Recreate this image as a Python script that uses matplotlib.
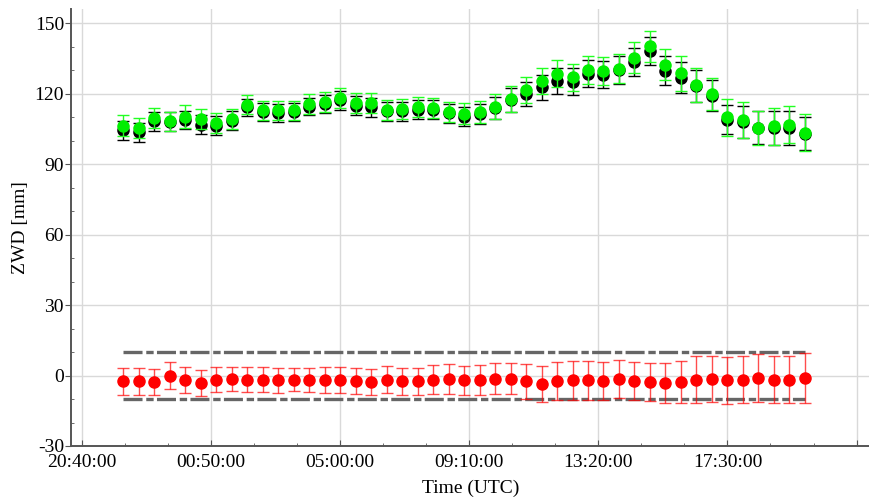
import matplotlib
matplotlib.use('Agg')
import matplotlib.pyplot as plt
from matplotlib.ticker import FixedLocator, FixedFormatter
import matplotlib.dates as mdates
import pandas as pd

plt.rcParams['font.family'] = ['Liberation Serif', 'DejaVu Serif']
plt.rcParams['lines.scale_dashes'] = False
plt.rcParams['axes.unicode_minus'] = False

# 30-minute epochs, 22:00 -> 20:00 next day
times = pd.date_range('2000-01-01 22:00', periods=45, freq='30min')

# ZWD series (black / green) and their differences (red), mm
zwd_black = [104.3, 103.5, 108.2, 108.0, 108.8, 106.8, 106.4, 108.5, 114.2, 112.1,
             111.8, 112.1, 114.5, 115.6, 117.2, 114.9, 114.2, 112.5, 112.5, 113.1,
             113.1, 111.6, 110.2, 111.4, 113.9, 117.3, 119.9, 122.7, 125.5, 125.1,
             128.4, 128.1, 130.1, 133.3, 138.0, 129.8, 126.7, 123.1, 119.1, 108.8,
             107.8, 105.4, 105.4, 105.4, 102.9]
err_black = [4.2, 3.9, 4.0, 4.0, 3.8, 4.0, 4.0, 3.9, 3.6, 3.8,
             3.8, 3.8, 3.8, 3.9, 4.0, 4.0, 4.0, 4.0, 4.0, 4.0,
             4.0, 4.1, 4.2, 4.3, 4.6, 5.0, 5.2, 5.4, 5.6, 5.6,
             5.7, 5.8, 5.9, 6.0, 5.9, 6.2, 6.6, 6.8, 6.6, 6.2,
             6.8, 7.0, 7.1, 7.1, 7.1]

zwd_green = [106.4, 105.2, 109.6, 108.2, 110.2, 109.2, 107.5, 109.2, 115.3, 112.8,
             112.8, 112.8, 115.6, 116.3, 118.0, 115.9, 115.9, 113.1, 113.5, 114.2,
             113.9, 112.1, 111.4, 112.1, 114.5, 117.7, 121.6, 125.5, 128.4, 126.9,
             130.1, 129.5, 130.5, 135.2, 140.1, 132.3, 128.6, 123.8, 119.9, 109.9,
             108.8, 105.4, 106.0, 106.8, 103.4]
err_green = [4.3, 4.3, 4.3, 4.1, 4.8, 4.4, 4.3, 4.3, 3.9, 4.1,
             4.1, 4.1, 4.1, 4.2, 4.2, 4.2, 4.2, 4.3, 4.3, 4.3,
             4.3, 4.4, 4.5, 4.7, 5.2, 5.4, 5.5, 5.6, 5.8, 5.8,
             5.9, 6.0, 6.2, 6.6, 6.7, 6.6, 7.3, 7.2, 6.9, 7.8,
             7.6, 7.3, 7.8, 7.8, 7.7]

diff = [-2.5, -2.5, -2.8, 0.0, -1.8, -3.3, -1.8, -1.4, -1.7, -1.7,
        -2.1, -1.7, -2.1, -1.8, -1.8, -2.4, -2.8, -1.7, -2.5, -2.5,
        -1.8, -1.4, -2.1, -1.8, -1.4, -1.4, -2.4, -3.5, -2.4, -2.1,
        -2.1, -2.4, -1.4, -2.4, -2.7, -3.3, -2.7, -1.7, -1.4, -2.1,
        -1.7, -1.0, -1.7, -1.7, -1.0]
err_diff = [5.8, 5.7, 5.7, 5.7, 5.5, 5.5, 5.3, 5.2, 5.3, 5.5,
            5.5, 5.0, 5.1, 5.5, 5.5, 5.5, 5.5, 5.7, 5.9, 5.9,
            6.2, 6.4, 6.3, 6.4, 6.6, 6.6, 7.4, 7.6, 8.0, 8.2,
            8.4, 8.2, 8.2, 8.2, 8.2, 8.5, 8.9, 9.8, 9.9, 9.9,
            10.1, 10.3, 10.1, 10.1, 10.6]

limit = 10

yticks = [-30, 0, 30, 60, 90, 120, 150]
xtick_labels = ['20:40:00', '00:50:00', '05:00:00', '09:10:00', '13:20:00', '17:30:00', '']

fig = plt.figure(figsize=(8.7, 5), dpi=100)
ax = fig.add_axes([71/870, 54/500, 799/870, 437/500])

t0 = pd.Timestamp('2000-01-01 20:40')
major = [t0 + pd.Timedelta(minutes=250*k) for k in range(7)]
minor = [t0 + pd.Timedelta(minutes=250/3*k) for k in range(19) if k % 3]

# +/- 10 mm limits
for lev in (limit, -limit):
        ax.plot([times[0], times[-1]], [lev, lev], color='#666666', lw=2.4,
                ls=(0, (13.7, 2.7, 5.3, 2.4)), dash_capstyle='butt', zorder=2)

ax.errorbar(times, zwd_black, yerr=err_black, fmt='o', color='black', ms=8,
            ecolor='black', elinewidth=1, capsize=4, capthick=1, zorder=3)
ax.errorbar(times, zwd_green, yerr=err_green, fmt='o', color='#00ee00', ms=8,
            ecolor='#22ff22', elinewidth=1, capsize=4, capthick=1, zorder=4)
ax.errorbar(times, diff, yerr=err_diff, fmt='o', color='red', ms=8,
            ecolor=(1, 0, 0, 0.7), elinewidth=1, capsize=4, capthick=1, zorder=4)

ax.set_xlim(t0 - pd.Timedelta(minutes=21), t0 + pd.Timedelta(minutes=1526))
ax.set_ylim(-30, 156)

ax.xaxis.set_major_locator(FixedLocator(mdates.date2num(major)))
ax.xaxis.set_major_formatter(FixedFormatter(xtick_labels))
ax.xaxis.set_minor_locator(FixedLocator(mdates.date2num(minor)))
ax.set_yticks(yticks)
ax.set_yticks(range(-30, 151, 10), minor=True)

for s in ['top', 'right']:
        ax.spines[s].set_visible(False)
for s in ['left', 'bottom']:
        ax.spines[s].set_color('#555555')
        ax.spines[s].set_linewidth(1.4)

ax.grid(True, which='major', color='#d9d9d9', lw=1)
ax.set_axisbelow(True)

ax.tick_params(axis='x', which='major', direction='in', length=4, color='#555555', labelsize=14, pad=6)
ax.tick_params(axis='x', which='minor', direction='in', length=2.5, color='#555555')
ax.tick_params(axis='y', which='major', direction='out', length=4, color='#555555', labelsize=14, pad=1)
ax.tick_params(axis='y', which='minor', direction='in', length=2.5, color='#555555')

ax.set_xlabel('Time (UTC)', fontsize=14, labelpad=6)
ax.set_ylabel('ZWD [mm]', fontsize=14, labelpad=4)

fig.savefig('out.png', dpi=100)
